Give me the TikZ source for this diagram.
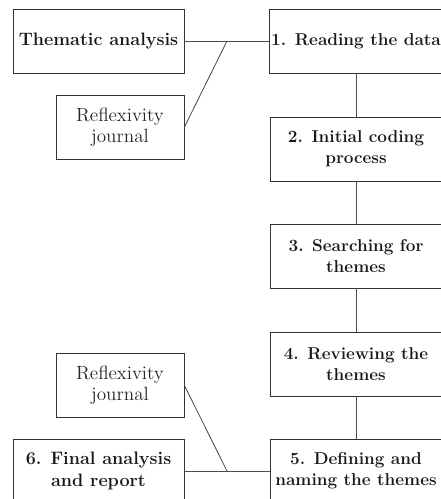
\documentclass[tikz,border=0pt]{standalone}
\usepackage{tikz}
\usetikzlibrary{calc}

\tikzset{
	stepbox/.style={draw=black!80, line width=0.6pt, inner xsep=1pt, minimum width=4.3cm, minimum height=1.6cm, align=center, font=\fontsize{12.2}{15}\selectfont\bfseries, text=black!90},
	sidebox/.style={draw=black!80, line width=0.6pt, inner xsep=1pt, minimum width=4.275cm, minimum height=1.6cm, align=center, font=\fontsize{12.8}{15}\selectfont\bfseries, text=black!90},
	notebox/.style={draw=black!80, line width=0.6pt, minimum width=3.2cm, minimum height=1.6cm, align=center, font=\fontsize{13.6}{15}\selectfont, text=black!85},
	link/.style={draw=black!70, line width=0.6pt}
}

\begin{document}
\begin{tikzpicture}[x=0.025cm, y=-0.025cm]
	\useasboundingbox (0,0) rectangle (440,499);		%frame of the picture
	
	%steps on the right
	\node[stepbox] (read) at (356,41) {1. Reading the data};
	\node[stepbox] (code) at (356,149) {2. Initial coding\\process};
	\node[stepbox] (search) at (356,256) {3. Searching for\\themes};
	\node[stepbox] (review) at (356,364) {4. Reviewing the\\themes};
	\node[stepbox] (define) at (356,471) {5. Defining and\\naming the themes};
	
	%boxes on the left
	\node[sidebox] (thematic) at (98.5,41) {Thematic analysis};
	\node[notebox] (journaltop) at (120,127) {Reflexivity\\journal};
	\node[notebox] (journalbot) at (120,385.5) {Reflexivity\\journal};
	\node[sidebox] (final) at (98.5,471) {6. Final analysis\\and report};
	
	%junctions
	\coordinate (jtop) at (227,41);
	\coordinate (jbot) at (227,471);
	
	%lines
	\draw[link] (thematic) -- (read);		%top line
	\draw[link] (journaltop.east) -- (jtop);	%upper diagonal
	\draw[link] (final) -- (define);		%bottom line
	\draw[link] (journalbot.east) -- (jbot);	%lower diagonal
	\draw[link] (read) -- (code);
	\draw[link] (code) -- (search);
	\draw[link] (search) -- (review);
	\draw[link] (review) -- (define);
\end{tikzpicture}
\end{document}
